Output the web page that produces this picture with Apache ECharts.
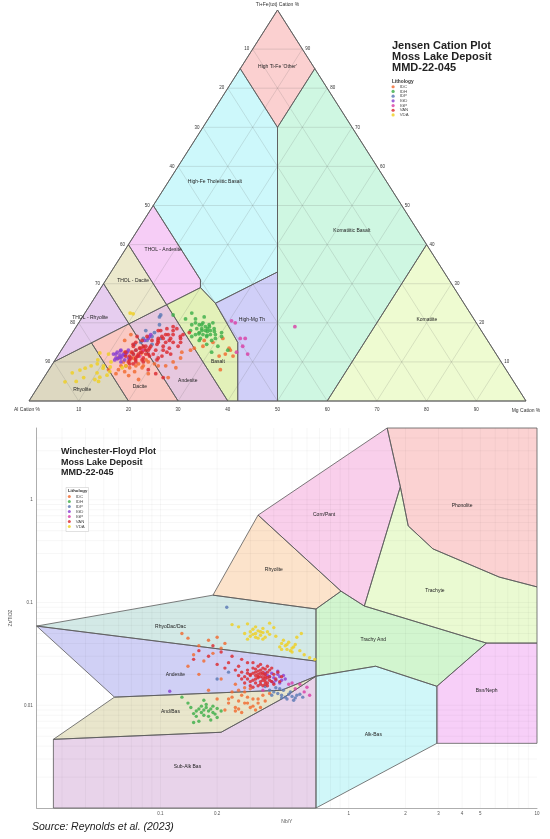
<!DOCTYPE html>
<html lang="en">
<head>
  <meta charset="UTF-8">
  <title>Jensen Cation Plot / Winchester-Floyd Plot - Moss Lake Deposit</title>
  <style>
    html, body { margin: 0; padding: 0; background: #fff; }
    #chart { width: 550px; height: 839px; }
  </style>
  <script src="https://cdn.jsdelivr.net/npm/echarts@6/dist/echarts.min.js"></script>
</head>
<body>
  <div id="chart"></div>
  <script>
    // ---- data ----
    const lithologies = ['IDC', 'IDH', 'IDP', 'IGD', 'IGP', 'VAN', 'VDA'];

    // Jensen cation plot samples: [Al, Fe+Ti, Mg] cation %
    const jensenIDC = [[76,10,14],[77,9,14],[75.5,8.5,16],[74,9,17],[73,8.5,18.5],[75,7.5,17.5],[77,7.5,15.5],[78,8,14],
      [76.5,11,12.5],[74.5,12.5,13],[72.5,9,18.5],[71,10,19],[70,9.5,20.5],[68,9,23],[66,10,24],[64,11,25],[63,12.5,24.5],
      [61,13,26],[60,13.5,26.5],[58,14,28],[57,15.5,27.5],[55.5,15,29.5],[56,11.5,32.5],[54.5,12,33.5],[53,13.5,33.5],
      [57.5,8,34.5],[79,7,14],[80,8,12],[73,15.5,11.5],[71,17,12],[76.7,6.5,16.8],[75.2,5.5,19.3],[72.5,7,20.5],
      [69.5,9,21.5],[69,6,25],[66.2,8.5,25.3],[73.5,11,15.5],[71.5,12,16.5],[71.2,10.5,18.3],[73.2,12.5,14.3],
      [70.2,13.5,16.3],[73.2,9.5,17.3],[53,16,31],[53,13,34],[53.2,11.5,35.3]];
    const jensenIDH = [[55.5,18,26.5],[56,18.5,25.5],[55,19,26],[54.5,18,27.5],[56.5,17,26.5],[57,17.5,25.5],[55,17,28],
      [54,19.5,26.5],[56,19.5,24.5],[57,18.5,24.5],[58,17,25],[57.5,16,26.5],[56,16.5,27.5],[54,17,29],[53.5,18.5,28],
      [55,20,25],[56.5,20,23.5],[57.5,19.5,23],[58.5,18,23.5],[53,20,27],[54.5,16,29.5],[53,16.5,30.5],[55.5,15.5,29],
      [58,15.5,26.5],[59,16.5,24.5],[56,21,23],[54,21.5,24.5],[52.5,17.5,30],[57,14.5,28.5],[55,14,31],[56,22.5,21.5],
      [58,21,21],[57,12.5,30.5],[60,22,18],[53.5,13,33.5],[55.2,17.8,27],[54.8,18.5,26.7],[56.2,18,25.8],
      [55.8,16.8,27.4],[54.2,19,26.8],[57.2,17.2,25.6],[55.5,19.5,25],[53.8,17.8,28.4]];
    const jensenIDP = [[68.5,15.5,16],[69,16,15],[67,16.5,16.5],[68,14.5,17.5],[66,17.5,16.5],[67.5,18,14.5],[64,19.5,16.5],
      [62.5,22,15.5],[63,21.5,15.5],[72,13,15],[71.5,14.5,14],[70,15,15],[73,12,15],[65.5,16,18.5]];
    const jensenIGD = [[76,11,13],[75.5,11.5,13],[76.5,12,11.5],[75,12,13],[77,11,12],[74.5,11,14.5],[75.5,10.5,14],
      [76,12.5,11.5],[74,12.5,13.5],[77.5,10.5,12],[73.5,13,13.5],[74.5,12,13.5],[75,13,12],[76.5,10,13.5],[68,16,16],
      [67.5,16.5,16],[69,15.5,15.5],[67,17,16],[75.8,11.8,12.4],[76.2,11.2,12.6],[74.8,11.8,13.4],[75.2,12.8,12],
      [77,12,11],[76.8,10.8,12.4]];
    const jensenIGP = [[49,20.5,30.5],[48.5,20,31.5],[49.5,16,34.5],[48.5,16,35.5],[50,14,36],[50,12,38],[52,12.5,35.5],
      [37,19,44],[70.5,13,16.5],[72,11.5,16.5]];
    const jensenVAN = [[72,12,16],[71,12.5,16.5],[70,13,17],[73,11,16],[72.5,11.5,16],[71.5,11,17.5],[70.5,12,17.5],
      [69,13.5,17.5],[68.5,14,17.5],[70,14,16],[71,13.5,15.5],[73,12.5,14.5],[74,11.5,14.5],[74.5,10.5,15],[73.5,10,16.5],
      [72,10.5,17.5],[70,11.5,18.5],[69,12,19],[68,13,19],[67,14.5,18.5],[66.5,15,18.5],[67.5,15.5,17],[66,16,18],
      [65,16.5,18.5],[64,17,19],[63.5,16,20.5],[65,15,20],[66,14,20],[64,15.5,20.5],[62.5,17,20.5],[62,18,20],
      [61,18.5,20.5],[63,18.5,18.5],[64.5,18,17.5],[60.5,17,22.5],[59,17.5,23.5],[61.5,16,22.5],[68,16.5,15.5],
      [69.5,15.5,15],[71,15,14],[75,9.5,15.5],[76,9,15],[69,10.5,20.5],[67.5,11.5,21],[66,12.5,21.5],[65,13.5,21.5],
      [70,16.5,13.5],[72,14,14],[63,14,23],[62,15,23],[75,10,15],[73.3,10.5,16.2],[74,11,15],[72.3,11.5,16.2],
      [73,12,15],[70,12,18],[71.3,12.5,16.2],[72,13,15],[69.5,13,17.5],[70.8,13.5,15.7],[69.5,14,16.5],[72,10,18],
      [74.3,9.5,16.2],[74.8,11.5,13.7],[74.3,12.5,13.2],[71.8,14.5,13.7],[65,16,19],[63.5,17,19.5],[63.5,15,21.5],
      [65,18,17],[61.3,16.5,22.2],[66.5,13,20.5],[65.5,12,22.5],[61.5,19,19.5],[66.3,15.5,18.2],[68.5,11,20.5],
      [72,8,20],[71,7,22],[70,6,24]];
    const jensenVDA = [[90.3,4.9,4.8],[87.7,7.2,5.1],[85.8,7.9,6.3],[84.5,8.4,7.1],[82.7,7.2,10.1],[82.7,6.1,11.2],
      [80.9,8.4,10.7],[81,6.6,12.4],[79.3,8.7,12],[80.9,10.5,8.6],[79.6,12.3,8.1],[68.4,22.5,9.1],[67.9,22.3,9.8],
      [86,6,8],[84,5.5,10.5],[88,5,7],[83,9,8],[81.5,9.5,9],[78.5,10,11.5],[80,7.5,12.5],[76,9,15],[77,8.5,14.5],
      [83.5,5,11.5],[80.5,9,10.5],[78,12,10]];

    // Winchester-Floyd samples: [Nb/Y, Zr/TiO2]
    const wfIDC = [[0.24,0.012],[0.26,0.011],[0.28,0.0105],[0.30,0.0095],[0.32,0.009],[0.27,0.0085],[0.25,0.0095],
      [0.23,0.0105],[0.29,0.012],[0.31,0.0115],[0.33,0.0105],[0.35,0.0125],[0.34,0.0095],[0.36,0.011],[0.22,0.009],
      [0.28,0.0135],[0.26,0.014],[0.30,0.0145],[0.24,0.0135],[0.38,0.013],[0.20,0.0115],[0.18,0.014],[0.16,0.02],
      [0.14,0.024],[0.17,0.027],[0.19,0.032],[0.16,0.038],[0.14,0.045],[0.18,0.043],[0.21,0.036],[0.15,0.031],
      [0.22,0.040],[0.20,0.046],[0.13,0.05],[0.25,0.016],[0.21,0.018],[0.27,0.0125],[0.29,0.0105],[0.31,0.0098],
      [0.25,0.0088],[0.33,0.0115],[0.26,0.0092],[0.28,0.0148],[0.23,0.0115]];
    const wfIDH = [[0.17,0.009],[0.175,0.0095],[0.18,0.0088],[0.185,0.0092],[0.19,0.0085],[0.165,0.0085],[0.17,0.008],
      [0.18,0.0078],[0.16,0.0092],[0.155,0.0088],[0.19,0.0098],[0.2,0.0093],[0.195,0.0082],[0.175,0.0102],[0.165,0.0098],
      [0.155,0.0078],[0.15,0.0083],[0.2,0.0076],[0.185,0.0072],[0.16,0.007],[0.145,0.0095],[0.21,0.0088],[0.14,0.0105],
      [0.17,0.0112],[0.15,0.0068],[0.13,0.012]];
    const wfIDP = [[0.40,0.0135],[0.42,0.013],[0.44,0.0125],[0.46,0.012],[0.48,0.0128],[0.45,0.014],[0.43,0.0145],
      [0.50,0.0122],[0.52,0.0118],[0.47,0.0115],[0.41,0.0148],[0.38,0.014],[0.49,0.0135],[0.53,0.0125],[0.55,0.0128],
      [0.44,0.0118],[0.36,0.0152],[0.51,0.0112],[0.57,0.012],[0.39,0.0125],[0.20,0.018],[0.23,0.021],[0.225,0.09]];
    const wfIGD = [[0.38,0.019],[0.40,0.0185],[0.42,0.02],[0.41,0.0175],[0.43,0.019],[0.39,0.0205],[0.44,0.0175],
      [0.37,0.0195],[0.40,0.0165],[0.45,0.0195],[0.42,0.0215],[0.36,0.0205],[0.43,0.0165],[0.46,0.018],[0.39,0.017],
      [0.112,0.0137]];
    const wfIGP = [[0.52,0.0145],[0.55,0.016],[0.58,0.0135],[0.50,0.0165],[0.60,0.015],[0.48,0.016],[0.62,0.0125],
      [0.35,0.014]];
    const wfVAN = [[0.30,0.020],[0.32,0.021],[0.33,0.019],[0.34,0.022],[0.35,0.020],[0.36,0.018],[0.37,0.021],
      [0.38,0.019],[0.39,0.017],[0.40,0.020],[0.31,0.023],[0.33,0.024],[0.35,0.023],[0.37,0.024],[0.29,0.022],
      [0.28,0.019],[0.34,0.017],[0.36,0.016],[0.38,0.022],[0.41,0.018],[0.42,0.021],[0.32,0.018],[0.30,0.017],
      [0.27,0.021],[0.26,0.024],[0.25,0.022],[0.29,0.026],[0.31,0.026],[0.34,0.025],[0.39,0.023],[0.36,0.019],
      [0.33,0.020],[0.35,0.0175],[0.37,0.0165],[0.40,0.016],[0.23,0.026],[0.22,0.023],[0.20,0.025],[0.18,0.03],
      [0.16,0.034],[0.19,0.038],[0.21,0.033],[0.24,0.030],[0.15,0.028],[0.27,0.028],[0.44,0.019],[0.43,0.017],
      [0.29,0.018],[0.30,0.0195],[0.31,0.0175],[0.31,0.0205],[0.32,0.0165],[0.32,0.0195],[0.33,0.0155],[0.33,0.0185],
      [0.33,0.0215],[0.34,0.016],[0.34,0.019],[0.34,0.0205],[0.35,0.0155],[0.35,0.0185],[0.35,0.021],[0.36,0.017],
      [0.36,0.02],[0.37,0.0155],[0.37,0.0185],[0.30,0.0155],[0.29,0.0205],[0.28,0.0165],[0.31,0.015],[0.32,0.0225],
      [0.36,0.0225],[0.38,0.0175],[0.27,0.018],[0.26,0.0195]];
    const wfVDA = [[0.30,0.052],[0.31,0.055],[0.32,0.05],[0.33,0.053],[0.34,0.048],[0.35,0.051],[0.30,0.047],
      [0.28,0.05],[0.33,0.045],[0.36,0.046],[0.37,0.052],[0.32,0.058],[0.35,0.056],[0.38,0.049],[0.29,0.044],
      [0.44,0.04],[0.46,0.038],[0.48,0.041],[0.50,0.036],[0.47,0.035],[0.45,0.043],[0.52,0.039],[0.50,0.033],
      [0.43,0.037],[0.55,0.034],[0.58,0.031],[0.62,0.029],[0.66,0.028],[0.40,0.057],[0.26,0.058],[0.41,0.047],
      [0.53,0.046],[0.31,0.049],[0.34,0.052],[0.32,0.046],[0.35,0.044],[0.47,0.039],[0.49,0.034],[0.44,0.035],
      [0.51,0.037],[0.24,0.061],[0.29,0.062],[0.38,0.063],[0.56,0.05]];

    // Jensen field outlines [Al, Fe+Ti, Mg]
    const jOther = [[0,100,0],[15,85,0],[15,70,15],[0,85,15]];
    const jHFT = [[50,50,0],[15,85,0],[15,70,15],[33.5,33,33.5],[50,25,25],[51,29,20],[50,31,19]];
    const jKomBas = [[15,70,15],[0,85,15],[0,40,60],[40,0,60],[50,0,50]];
    const jKomatiite = [[40,0,60],[0,0,100],[0,40,60]];
    const jHMT = [[50,25,25],[50.5,15,34.5],[58,0,42],[50,0,50],[33.5,33,33.5]];
    const jThAndesite = [[50,50,0],[60,40,0],[60,24.62,15.38],[51,29,20],[50,31,19]];
    const jThDacite = [[60,40,0],[70,30,0],[70,19.74,10.26],[60,24.62,15.38]];
    const jThRhyolite = [[70,30,0],[90,10,0],[70,19.74,10.26]];
    const jRhyolite = [[90,10,0],[100,0,0],[80,0,20],[80,14.87,5.13]];
    const jDacite = [[80,14.87,5.13],[80,0,20],[70,0,30],[70,19.74,10.26]];
    const jAndesite = [[70,19.74,10.26],[70,0,30],[60,0,40],[60,24.62,15.38]];
    const jBasalt = [[60,24.62,15.38],[60,0,40],[58,0,42],[50.5,15,34.5],[50,25,25],[51,29,20]];

    const jensenLabels = [
      ["High Ti-Fe 'Other'", [7.3,85.4,7.3]],
      ['High-Fe Tholeiitic Basalt', [34.6,56,9.4]],
      ['Komatiitic Basalt', [13.3,43.5,43.2]],
      ['Komatiite', [9.6,20.7,69.7]],
      ['High-Mg Th', [44.8,20.7,34.5]],
      ['Basalt', [57,10,33]],
      ['Andesite', [65.5,5.1,29.4]],
      ['Dacite', [75.9,3.6,20.5]],
      ['Rhyolite', [87.9,2.8,9.3]],
      ['THOL - Rhyolite', [77.1,21.2,1.7]],
      ['THOL - Dacite', [63.6,30.9,5.5]],
      ['THOL - Andesite', [53.7,38.6,7.7]]
    ];

    // Winchester-Floyd field outlines [Nb/Y, Zr/TiO2]
    const wfRhyoDac = [[0.022,0.059],[0.19,0.118],[0.67,0.0865],[0.67,0.0269]];
    const wfRhyolite = [[0.19,0.118],[0.33,0.71],[0.91,0.129],[0.67,0.0865]];
    const wfComPant = [[0.33,0.71],[1.6,5],[1.88,1.34],[1.21,0.0925],[0.91,0.129]];
    const wfPhonolite = [[1.6,5],[10,5],[10,0.142],[6.3,0.177],[2.8,0.333],[2.07,0.557],[1.88,1.34]];
    const wfTrachyte = [[1.88,1.34],[2.07,0.557],[2.8,0.333],[6.3,0.177],[10,0.142],[10,0.0403],[5.39,0.0403],[1.21,0.0925]];
    const wfTrachyAnd = [[0.67,0.0865],[0.91,0.129],[1.21,0.0925],[5.39,0.0403],[2.94,0.0153],[1.39,0.024],[0.67,0.0192]];
    const wfBsnNeph = [[5.39,0.0403],[10,0.0403],[10,0.00426],[2.94,0.00426],[2.94,0.0153]];
    const wfAlkBas = [[0.67,0.0192],[1.39,0.024],[2.94,0.0153],[2.94,0.00426],[0.67,0.001]];
    const wfAndesite = [[0.022,0.059],[0.67,0.0269],[0.67,0.0192],[0.44,0.014],[0.057,0.012]];
    const wfAndBas = [[0.027,0.00466],[0.057,0.012],[0.44,0.014],[0.67,0.0192],[0.44,0.0115],[0.21,0.00546]];
    const wfSubAlkBas = [[0.027,0.00466],[0.21,0.00546],[0.44,0.0115],[0.67,0.0192],[0.67,0.001],[0.027,0.001]];

    const wfLabels = [
      ['RhyoDac/Dac', [0.113,0.0577]], ['Andesite', [0.12,0.02]], ['And/Bas', [0.113,0.0086]],
      ['Sub-Alk Bas', [0.139,0.0025]], ['Rhyolite', [0.4,0.207]], ['Com/Pant', [0.74,0.71]],
      ['Phonolite', [4.0,0.87]], ['Trachyte', [2.87,0.132]], ['Trachy And', [1.35,0.044]],
      ['Bsn/Neph', [5.4,0.0138]], ['Alk-Bas', [1.35,0.0052]]
    ];

    const ternaryTicks = [10, 20, 30, 40, 50, 60, 70, 80, 90];
    const wfXLabels = [0.1, 0.2, 1, 2, 3, 4, 5, 10];
    const wfYLabels = [0.01, 0.1, 1];

    // ---- styling ----
    const FONT = '"Liberation Sans", Arial, sans-serif';
    const lithColours = {
      IDC: '#F26A30', IDH: '#3DAE49', IDP: '#5A79B5', IGD: '#8A3FD1',
      IGP: '#D93FA6', VAN: '#DC2A30', VDA: '#EFCF22'
    };
    const jensenData = { IDC: jensenIDC, IDH: jensenIDH, IDP: jensenIDP, IGD: jensenIGD, IGP: jensenIGP, VAN: jensenVAN, VDA: jensenVDA };
    const wfData = { IDC: wfIDC, IDH: wfIDH, IDP: wfIDP, IGD: wfIGD, IGP: wfIGP, VAN: wfVAN, VDA: wfVDA };

    const jensenFields = [
      { pts: jOther, fill: '#FBD0D0' }, { pts: jHFT, fill: '#CDF8FB' }, { pts: jKomBas, fill: '#CFF7E2' },
      { pts: jKomatiite, fill: '#EEFBD1' }, { pts: jHMT, fill: '#D0CFF8' }, { pts: jThAndesite, fill: '#F6CDF6' },
      { pts: jThDacite, fill: '#ECE9CD' }, { pts: jThRhyolite, fill: '#E6CDEF' }, { pts: jRhyolite, fill: '#DDD8C1' },
      { pts: jDacite, fill: '#FAC9C3' }, { pts: jAndesite, fill: '#E6C8DF' }, { pts: jBasalt, fill: '#E3F1B9' }
    ];
    const wfFields = [
      { pts: wfRhyoDac, fill: '#D3E9E6' }, { pts: wfRhyolite, fill: '#FCE3CB' }, { pts: wfComPant, fill: '#F9CFEB' },
      { pts: wfPhonolite, fill: '#FBD2D2' }, { pts: wfTrachyte, fill: '#EAFAD2' }, { pts: wfTrachyAnd, fill: '#D2F5CF' },
      { pts: wfBsnNeph, fill: '#F7CFF8' }, { pts: wfAlkBas, fill: '#D0F7F9' }, { pts: wfAndesite, fill: '#D0D0F5' },
      { pts: wfAndBas, fill: '#E9E6CC' }, { pts: wfSubAlkBas, fill: '#E8D3EA' }
    ];

    // ternary [Al, Fe+Ti, Mg] -> cartesian on a 0-100 grid
    function tern(p) { return [p[2] + p[1] / 2, p[1]]; }
    function same(p) { return p; }

    function fieldSeries(fields, axis, project, filled) {
      return {
        type: 'custom', xAxisIndex: axis, yAxisIndex: axis, silent: true, z: filled ? 1 : 3,
        data: fields.map(() => [1, 1]),
        renderItem: (params, api) => {
          const f = fields[params.dataIndex];
          return {
            type: 'polygon',
            shape: { points: f.pts.map(p => api.coord(project(p))) },
            style: filled ? { fill: f.fill } : { fill: 'none', stroke: '#5a5a5a', lineWidth: 0.8 }
          };
        }
      };
    }

    function segmentSeries(segs, axis, stroke, width) {
      return {
        type: 'custom', xAxisIndex: axis, yAxisIndex: axis, silent: true, z: 2,
        data: segs.map(() => [1, 1]),
        renderItem: (params, api) => {
          const s = segs[params.dataIndex];
          const a = api.coord(s[0]), b = api.coord(s[1]);
          return { type: 'line', shape: { x1: a[0], y1: a[1], x2: b[0], y2: b[1] }, style: { stroke: stroke, lineWidth: width } };
        }
      };
    }

    function textSeries(items, axis) {
      return {
        type: 'custom', xAxisIndex: axis, yAxisIndex: axis, silent: true, z: 4,
        data: items.map(() => [1, 1]),
        renderItem: (params, api) => {
          const t = items[params.dataIndex];
          const c = api.coord(t.at);
          return {
            type: 'text',
            style: {
              text: t.text, x: c[0] + (t.dx || 0), y: c[1] + (t.dy || 0),
              fill: t.color || '#333', fontSize: t.size || 5, fontFamily: FONT,
              align: t.align || 'center', verticalAlign: 'middle'
            }
          };
        }
      };
    }

    // ternary grid lines every 10 %
    const ternGrid = [];
    ternaryTicks.forEach(v => {
      ternGrid.push([tern([100 - v, v, 0]), tern([0, v, 100 - v])]);
      ternGrid.push([tern([v, 100 - v, 0]), tern([v, 0, 100 - v])]);
      ternGrid.push([tern([100 - v, 0, v]), tern([0, 100 - v, v])]);
    });

    const ternText = [];
    ternaryTicks.forEach(v => {
      ternText.push({ text: String(v), at: tern([v, 100 - v, 0]), dx: -3.5, align: 'right', size: 4.5 });
      ternText.push({ text: String(v), at: tern([0, v, 100 - v]), dx: 3, align: 'left', size: 4.5 });
      ternText.push({ text: String(v), at: tern([100 - v, 0, v]), dy: 9, size: 4.5 });
    });
    ternText.push({ text: 'Ti+Fe(tot) Cation %', at: tern([0, 100, 0]), dy: -5.5, size: 5 });
    ternText.push({ text: 'Al Cation %', at: tern([100, 0, 0]), dx: -2, dy: 9, size: 5 });
    ternText.push({ text: 'Mg Cation %', at: tern([0, 0, 100]), dy: 10, size: 5 });
    jensenLabels.forEach(l => ternText.push({ text: l[0], at: tern(l[1]), size: 5, color: '#222' }));

    // Winchester-Floyd log grid (1-9 per decade)
    const wfGrid = [];
    [0.01, 0.1, 1].forEach(d => {
      for (let m = 1; m <= 9; m++) {
        const v = m * d;
        if (v > 0.022 && v < 10) wfGrid.push([[v, 0.001], [v, 5]]);
      }
    });
    [0.001, 0.01, 0.1, 1].forEach(d => {
      for (let m = 1; m <= 9; m++) {
        const v = m * d;
        if (v > 0.001 && v < 5) wfGrid.push([[0.022, v], [10, v]]);
      }
    });
    const wfText = wfLabels.map(l => ({ text: l[0], at: l[1], size: 5, color: '#222' }));

    const series = [
      fieldSeries(jensenFields, 0, tern, true),
      segmentSeries(ternGrid, 0, 'rgba(90,90,90,0.28)', 0.6),
      fieldSeries(jensenFields, 0, tern, false),
      fieldSeries([{ pts: [[100,0,0],[0,0,100],[0,100,0]] }], 0, tern, false),
      textSeries(ternText, 0),
      fieldSeries(wfFields, 1, same, true),
      segmentSeries(wfGrid, 1, 'rgba(0,0,0,0.07)', 0.5),
      fieldSeries(wfFields, 1, same, false),
      textSeries(wfText, 1)
    ];
    lithologies.forEach(name => {
      series.push({
        name: name, type: 'scatter', xAxisIndex: 0, yAxisIndex: 0, z: 5,
        data: jensenData[name].map(tern), symbolSize: 3.8,
        itemStyle: { color: lithColours[name], opacity: 0.82 }
      });
      series.push({
        name: name, type: 'scatter', xAxisIndex: 1, yAxisIndex: 1, z: 5,
        data: wfData[name], symbolSize: 3.4,
        itemStyle: { color: lithColours[name], opacity: 0.82 }
      });
    });

    const chart = echarts.init(document.getElementById('chart'));
    chart.setOption({
      animation: false,
      backgroundColor: '#fff',
      textStyle: { fontFamily: FONT },
      title: [
        {
          text: 'Jensen Cation Plot\nMoss Lake Deposit\nMMD-22-045', left: 392, top: 40, padding: 0,
          textStyle: { fontSize: 11, fontWeight: 'bold', lineHeight: 11, color: '#222', fontFamily: FONT }
        },
        {
          text: 'Winchester-Floyd Plot\nMoss Lake Deposit\nMMD-22-045', left: 61, top: 446.5, padding: 0,
          textStyle: { fontSize: 9, fontWeight: 'bold', lineHeight: 10.5, color: '#222', fontFamily: FONT }
        }
      ],
      legend: [
        {
          data: lithologies, orient: 'vertical', left: 391.5, top: 84.4, padding: 0, z: 200,
          icon: 'circle', itemWidth: 3.2, itemHeight: 3.2, itemGap: 0, selectedMode: false,
          textStyle: { fontSize: 4.3, lineHeight: 4.7, color: '#444', fontFamily: FONT }
        },
        {
          data: lithologies, orient: 'vertical', left: 67.8, top: 494, padding: 0, z: 200,
          icon: 'circle', itemWidth: 3, itemHeight: 3, itemGap: 0, selectedMode: false,
          textStyle: { fontSize: 4.3, lineHeight: 5, color: '#444', fontFamily: FONT }
        }
      ],
      graphic: [
        { type: 'text', left: 392, top: 79.5, z: 150, style: { text: 'Lithology', font: 'bold 4.8px ' + FONT, fill: '#333' } },
        {
          type: 'rect', z: 100, shape: { x: 66, y: 487.5, width: 22.5, height: 44 },
          style: { fill: '#fff', stroke: '#cccccc', lineWidth: 0.6 }
        },
        { type: 'text', left: 68, top: 489, z: 150, style: { text: 'Lithology', font: 'bold 4.3px ' + FONT, fill: '#333' } },
        {
          type: 'text', left: 32, top: 822, z: 150,
          style: { text: 'Source: Reynolds et al. (2023)', font: 'italic 10.5px ' + FONT, fill: '#222' }
        }
      ],
      grid: [
        { left: 29, top: 10, width: 497, height: 391 },
        { left: 33, top: 428, width: 504, height: 380 }
      ],
      xAxis: [
        { gridIndex: 0, type: 'value', min: 0, max: 100, show: false },
        {
          gridIndex: 1, type: 'log', logBase: 10, min: 0.022, max: 10,
          axisLine: { show: true, lineStyle: { color: '#999', width: 0.8 } },
          axisTick: { show: false }, splitLine: { show: false },
          axisLabel: { customValues: wfXLabels, fontSize: 4.5, color: '#555', margin: 3, formatter: v => String(v) },
          name: 'Nb/Y', nameLocation: 'middle', nameGap: 11,
          nameTextStyle: { fontSize: 5, color: '#555' }
        }
      ],
      yAxis: [
        { gridIndex: 0, type: 'value', min: 0, max: 100, show: false },
        {
          gridIndex: 1, type: 'log', logBase: 10, min: 0.001, max: 5,
          axisLine: { show: true, lineStyle: { color: '#999', width: 0.8 } },
          axisTick: { show: false }, splitLine: { show: false },
          axisLabel: { customValues: wfYLabels, fontSize: 4.5, color: '#555', margin: 4, formatter: v => String(v) },
          name: 'Zr/TiO2', nameLocation: 'middle', nameGap: 13, nameRotate: 90,
          nameTextStyle: { fontSize: 5, color: '#555' }
        }
      ],
      series: series
    });
  </script>
</body>
</html>
